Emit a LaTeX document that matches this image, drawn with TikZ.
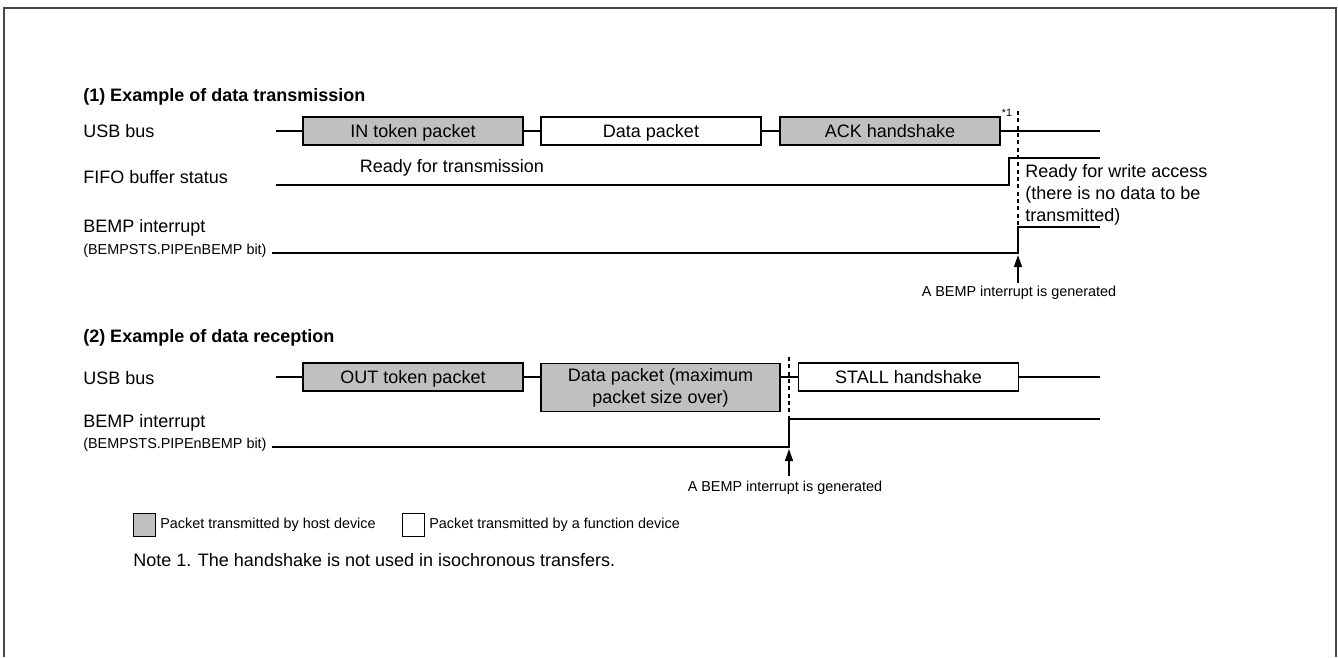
\documentclass[tikz,border=0pt]{standalone}
\usepackage{fontspec}
\setmainfont{Liberation Sans}
\usetikzlibrary{arrows.meta,calc,positioning}
\definecolor{hostgray}{RGB}{192,192,192}
\definecolor{framegray}{RGB}{70,70,70}
\tikzset{
  pkt/.style={draw,line width=1.1pt,minimum height=21pt,minimum width=165pt,inner sep=0pt,align=center},
  onerow/.style={text height=9.7pt,text depth=0pt},
  hostpkt/.style={pkt,fill=hostgray},
  funcpkt/.style={pkt,fill=white},
  keybox/.style={draw,line width=0.8pt,minimum width=16.5pt,minimum height=17pt,inner sep=0pt,anchor=west},
  sig/.style={line width=1.1pt},
  guide/.style={line width=0.9pt,dash pattern=on 3pt off 2.5pt},
  rowlbl/.style={anchor=west},
  smalltxt/.style={font=\fontsize{10.8}{13}\selectfont},
  heading/.style={anchor=west,font=\fontsize{13.5}{16.5}\selectfont\bfseries}
}

\begin{document}
\begin{tikzpicture}[x=0.75pt,y=-0.75pt,>=Stealth,line join=miter,every node/.style={font=\fontsize{13.5}{16.5}\selectfont,inner sep=0pt}]
\useasboundingbox (0,0) rectangle (1338,657);
% outer frame, open at the bottom
\draw[line width=1.5pt,framegray] (4,657) -- (4,8) -- (1336,8) -- (1336,657);

% (1) data transmission
\node[heading] (title1) at (83,97) {(1) Example of data transmission};
\node[rowlbl] (usb1) at (83,131) {USB bus};
\node[rowlbl] (fifo) at (83,177) {FIFO buffer status};
\node[rowlbl] (bemp1) at (83,228) {BEMP interrupt};
\node[rowlbl,smalltxt] (bits1) at (83,251) {(BEMPSTS.PIPEnBEMP bit)};
\node[hostpkt,onerow] (intok) at (413,131) {IN token packet};
\node[funcpkt,onerow] (datapk) at (651,131) {Data packet};
\node[hostpkt,onerow] (ackhs) at (890,131) {ACK handshake};
\coordinate (usb1start) at (276,131);
\coordinate (usb1end) at (1100,131);
\draw[sig] (usb1start) -- (intok.west) (intok.east) -- (datapk.west) (datapk.east) -- (ackhs.west) (ackhs.east) -- (usb1end);
\node[font=\fontsize{8}{9}\selectfont] (star1) at (1007,113) {*1};
% FIFO status
\coordinate (fifolo) at (276,185);
\coordinate (fifostep) at (1009,185);
\coordinate (fifoend) at (1100,158);
\draw[sig] (fifolo) -- (fifostep) |- (fifoend);
\node (rdytx) at (452,168) {Ready for transmission};
\node[anchor=north west,align=left] (rdywr) at (1025,164) {Ready for write access\\(there is no data to be\\transmitted)};
% BEMP interrupt
\coordinate (bemp1lo) at (272,253);
\coordinate (bemp1step) at (1018,253);
\coordinate (bemp1end) at (1100,227);
\draw[sig] (bemp1lo) -- (bemp1step) |- (bemp1end);
\coordinate (guide1top) at (1018,111);
\draw[guide] (guide1top) -- (bemp1step);
\coordinate (arr1tail) at (1018,283);
\draw[sig,-{Triangle[length=9pt,width=6pt]},shorten >=1.5pt] (arr1tail) -- (bemp1step);
\node[smalltxt] (gen1) at (1019,293) {A BEMP interrupt is generated};

% (2) data reception
\node[heading] (title2) at (83,338) {(2) Example of data reception};
\node[rowlbl] (usb2) at (83,378) {USB bus};
\node[rowlbl] (bemp2) at (83,423) {BEMP interrupt};
\node[rowlbl,smalltxt] (bits2) at (83,445) {(BEMPSTS.PIPEnBEMP bit)};
\node[hostpkt,onerow] (outtok) at (413,377) {OUT token packet};
\node[hostpkt,minimum width=179pt,minimum height=36pt,anchor=north] (datapk2) at (660.5,363) {Data packet (maximum\\packet size over)};
\node[funcpkt,onerow] (stallhs) at (908.5,377) {STALL handshake};
\coordinate (usb2start) at (276,377);
\coordinate (usb2end) at (1100,377);
\draw[sig] (usb2start) -- (outtok.west) (outtok.east) -- (outtok.east -| datapk2.west) (stallhs.west -| datapk2.east) -- (stallhs.west) (stallhs.east) -- (usb2end);
% BEMP interrupt
\coordinate (bemp2lo) at (272,447);
\coordinate (bemp2step) at (789,447);
\coordinate (bemp2end) at (1100,419);
\draw[sig] (bemp2lo) -- (bemp2step) |- (bemp2end);
\coordinate (guide2top) at (789,357);
\draw[guide] (guide2top) -- (bemp2step);
\coordinate (arr2tail) at (789,476);
\draw[sig,-{Triangle[length=9pt,width=6pt]},shorten >=1.5pt] (arr2tail) -- (bemp2step);
\node[smalltxt] (gen2) at (785,488) {A BEMP interrupt is generated};

% legend and note
\node[keybox,fill=hostgray] (keyhost) at (133,525) {};
\node[smalltxt,right=3pt of keyhost] (keyhosttxt) {Packet transmitted by host device};
\node[keybox,fill=white] (keyfunc) at (402,525) {};
\node[smalltxt,right=3pt of keyfunc] (keyfunctxt) {Packet transmitted by a function device};
\node[rowlbl] (note1) at (133,560) {Note 1. The handshake is not used in isochronous transfers.};
\end{tikzpicture}
\end{document}
